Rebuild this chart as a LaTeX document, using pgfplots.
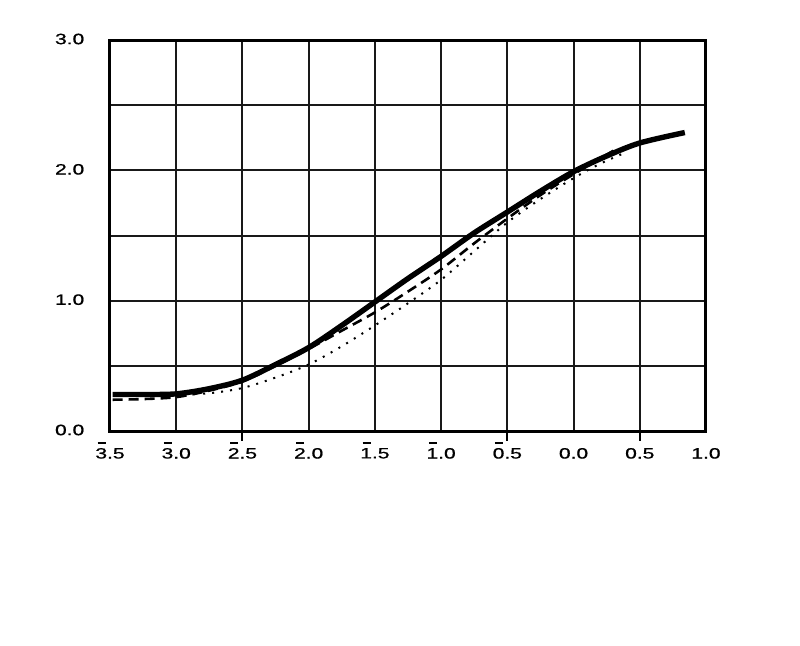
\documentclass[border=0pt]{standalone}
\usepackage{fontspec}
\setmainfont{Liberation Sans}
\newfontfamily\lblfont{Liberation Sans}[FakeBold=0.8]
\usepackage{pgfplots}
\pgfplotsset{compat=1.18}
\usepackage{graphicx}
\newcommand\lbl[1]{\scalebox{1.4}[1]{\lblfont\fontsize{7.5}{9}\selectfont #1}}
% digit with a bar over it (log characteristic)
\newcommand\bard[1]{\smash{\makebox[0pt][l]{\hspace{0.8pt}\rule[7.3pt]{2.9pt}{0.75pt}}}#1}
\newcommand\negl[2]{\lbl{\bard{#1}.#2}}
\begin{document}
\begin{tikzpicture}
\path[use as bounding box] (0,0) rectangle (400pt,322.5pt);
\begin{axis}[
  at={(55pt,107pt)}, anchor=south west,
  scale only axis, width=298pt, height=195.5pt,
  xmin=-3.5, xmax=1.0, ymin=0, ymax=3.0,
  xtick={-3.5,-3,...,1.0},
  xticklabels={\negl{3}{5},\negl{3}{0},\negl{2}{5},\negl{2}{0},\negl{1}{5},\negl{1}{0},\negl{0}{5},\lbl{0.0},\lbl{0.5},\lbl{1.0}},
  ytick={0,0.5,...,3.0},
  yticklabels={\lbl{0.0},,\lbl{1.0},,\lbl{2.0},,\lbl{3.0}},
  tick pos=left,
  major tick length=0pt,
  xticklabel style={yshift=-5pt},
  yticklabel style={anchor=west, xshift=-31pt, yshift=0.5pt},
  grid=major,
  major grid style={black!90, line width=1pt},
  axis line style={black, line width=1.5pt},
  clip=false,
]
\addplot[black, line width=2.7pt, smooth] coordinates {
(-3.48,0.28) (-3.25,0.28) (-3.0,0.285) (-2.75,0.325) (-2.5,0.39) (-2.25,0.51)
(-2.0,0.64) (-1.75,0.81) (-1.5,0.99) (-1.25,1.17) (-1.0,1.34) (-0.75,1.52)
(-0.5,1.68) (-0.25,1.84) (0.0,1.99) (0.25,2.11) (0.5,2.21) (0.84,2.29)
};
\addplot[black, line width=1.3pt, dash pattern=on 5pt off 3pt, smooth] coordinates {
(-3.48,0.24) (-3.25,0.245) (-3.0,0.26) (-2.75,0.31) (-2.5,0.38) (-2.25,0.50)
(-2.0,0.63) (-1.75,0.77) (-1.5,0.91) (-1.25,1.07) (-1.0,1.24) (-0.75,1.44)
(-0.5,1.63) (-0.25,1.81) (0.0,1.97) (0.3,2.15)
};
\addplot[black, line width=1pt, dash pattern=on 1pt off 3.5pt, smooth] coordinates {
(-3.0,0.28) (-2.75,0.29) (-2.5,0.33) (-2.25,0.41) (-2.0,0.51) (-1.75,0.65)
(-1.5,0.81) (-1.25,0.98) (-1.0,1.16) (-0.75,1.38) (-0.5,1.60) (-0.25,1.78)
(0.0,1.94) (0.2,2.05) (0.4,2.14)
};
% short outer ticks below the axis
\pgfplotsinvokeforeach{-2.5,-0.5,0.5}{
  \draw[black, line width=1pt] (axis cs:#1,0) -- ([yshift=-5pt]axis cs:#1,0);
}
\end{axis}
\end{tikzpicture}
\end{document}
